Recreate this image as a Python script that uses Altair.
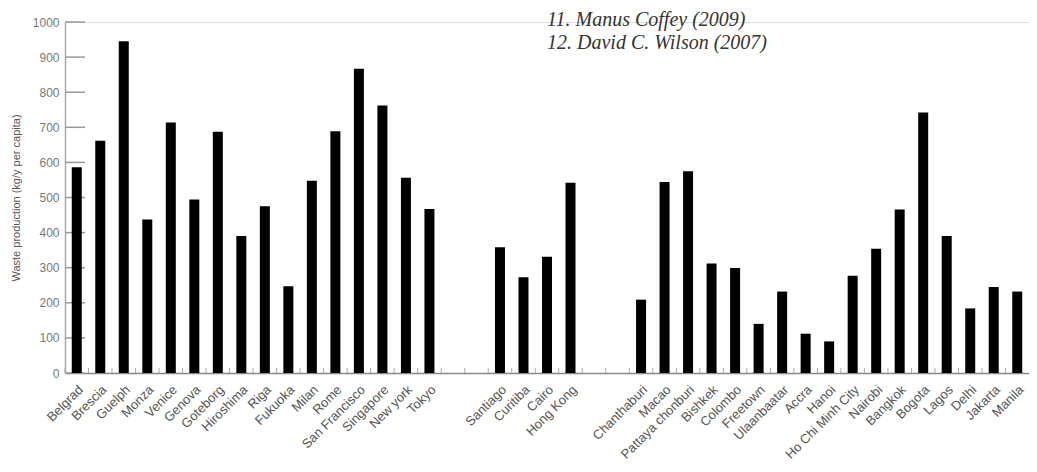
import altair as alt
import pandas as pd

group1 = ["Belgrad", "Brescia", "Guelph", "Monza", "Venice", "Genova", "Goteborg",
          "Hiroshima", "Riga", "Fukuoka", "Milan", "Rome", "San Francisco",
          "Singapore", "New york", "Tokyo"]
values1 = [586, 662, 945, 437, 714, 494, 687, 390, 475, 247, 548, 689, 867, 762, 556, 467]

group2 = ["Santiago", "Curitiba", "Cairo", "Hong Kong"]
values2 = [358, 273, 331, 542]

group3 = ["Chanthaburi", "Macao", "Pattaya chonburi", "Bishkek", "Colombo", "Freetown",
          "Ulaanbaatar", "Accra", "Hanoi", "Ho Chi Minh City", "Nairobi", "Bangkok",
          "Bogota", "Lagos", "Delhi", "Jakarta", "Manila"]
values3 = [209, 544, 575, 312, 299, 140, 232, 112, 90, 277, 354, 466, 742, 390, 184, 245, 232]

gap_a = [" ", "  "]
gap_b = ["   ", "    "]

y_ticks = [0, 100, 200, 300, 400, 500, 600, 700, 800, 900, 1000]
notes = ["11. Manus Coffey (2009)", "12. David C. Wilson (2007)"]

domain = group1 + gap_a + group2 + gap_b + group3
vals = dict(zip(group1 + group2 + group3, values1 + values2 + values3))
df = pd.DataFrame({"city": domain, "value": [vals.get(c) for c in domain]})
bars_df = df.dropna()
ticks_df = pd.DataFrame({"value": y_ticks})

W, H = 964, 351
LABEL_FONT = "Liberation Sans, Arial, sans-serif"
Y_TITLE = "Waste production (kg/y per capita)"

xscale = alt.Scale(domain=domain, paddingInner=0, paddingOuter=0)
yscale = alt.Scale(domain=[0, 1000], nice=False)

x_axis = alt.Axis(labelAngle=-45, labelFont=LABEL_FONT, labelFontSize=13,
                  labelColor="#555", ticks=False, domainColor="#888",
                  domainWidth=1.5, labelPadding=10, labelOverlap=False,
                  labelBound=False, labelLimit=200, grid=False)
y_axis = alt.Axis(values=y_ticks, format="d", tickSize=0, domainColor="#aaa",
                  domainWidth=1.5, labelFont=LABEL_FONT, labelFontSize=12,
                  labelColor="#777", labelPadding=6, labelOverlap=False,
                  titleFont=LABEL_FONT, titleFontSize=11,
                  titleFontWeight="normal", titleColor="#555", titlePadding=11,
                  grid=False)

bars = alt.Chart(bars_df).mark_bar(size=10, color="black").encode(
    x=alt.X("city:N", scale=xscale, sort=domain, title=None, axis=x_axis),
    y=alt.Y("value:Q", scale=yscale, title=Y_TITLE, axis=y_axis),
)

ytick_rules = alt.Chart(ticks_df).mark_rule(color="#999", strokeWidth=1.5).encode(
    y=alt.Y("value:Q", scale=yscale, title=Y_TITLE, axis=y_axis),
    x=alt.value(0), x2=alt.value(20),
)

xtick_rules = alt.Chart(df).mark_rule(color="#aaa", strokeWidth=1).encode(
    x=alt.X("city:N", scale=xscale, sort=domain, bandPosition=0, title=None, axis=x_axis),
    y=alt.value(H), y2=alt.value(H - 5),
)

note_text = alt.Chart(pd.DataFrame({"n": [0]})).mark_text(
    text=notes, align="left", baseline="alphabetic", font="Liberation Serif",
    fontStyle="italic", fontSize=20, lineHeight=23.4, color="#333"
).encode(x=alt.value(482), y=alt.value(4))

chart = alt.layer(ytick_rules, xtick_rules, bars, note_text).properties(
    width=W, height=H,
    autosize=alt.AutoSizeParams(type="none"),
    padding={"left": 57, "top": 14, "right": 0, "bottom": 91},
).configure_view(stroke=None).configure(background="white")

chart.save("out.html", embed_options={"renderer": "svg", "actions": False})
